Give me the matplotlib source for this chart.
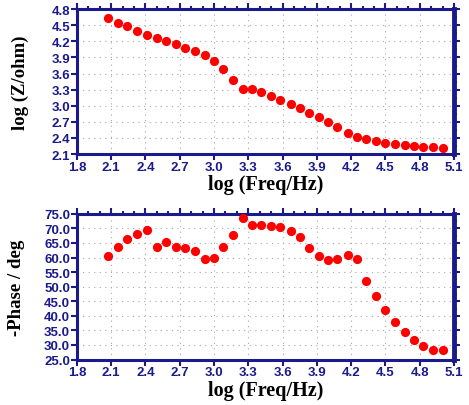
import numpy as np
import matplotlib.pyplot as plt
from matplotlib.ticker import MultipleLocator, FormatStrFormatter

log_freq = [2.07, 2.16, 2.24, 2.33, 2.41, 2.50, 2.58, 2.67, 2.75, 2.83, 2.92, 3.00,
            3.08, 3.17, 3.25, 3.33, 3.41, 3.50, 3.58, 3.67, 3.75, 3.83, 3.92, 4.00,
            4.08, 4.17, 4.25, 4.33, 4.42, 4.50, 4.58, 4.67, 4.75, 4.83, 4.92, 5.00]

log_z = [4.63, 4.55, 4.48, 4.40, 4.32, 4.26, 4.21, 4.15, 4.07, 4.02, 3.95, 3.83,
         3.68, 3.48, 3.32, 3.32, 3.25, 3.18, 3.11, 3.03, 2.95, 2.87, 2.79, 2.69,
         2.60, 2.50, 2.42, 2.38, 2.34, 2.31, 2.29, 2.27, 2.25, 2.24, 2.23, 2.22]

phase = [60.6, 63.6, 66.2, 68.2, 69.6, 63.6, 65.3, 63.6, 63.2, 62.1, 59.6, 59.9,
         63.5, 67.6, 73.4, 71.0, 71.2, 70.8, 70.5, 69.2, 67.1, 63.1, 60.5, 59.3,
         59.6, 60.8, 59.6, 51.8, 46.9, 42.1, 38.0, 34.6, 31.7, 29.7, 28.4, 28.1]

navy = '#1a1a8c'
tick_font = {'family': 'Liberation Sans', 'weight': 'bold', 'size': 9.5}
xlabel_font = {'family': 'Liberation Serif', 'weight': 'bold', 'size': 14.5}
ylabel_font = {'family': 'Liberation Serif', 'weight': 'bold', 'size': 13.5}

fig = plt.figure(figsize=(4.69, 4.06), dpi=100)
ax1 = fig.add_axes([0.164, 0.618, 0.804, 0.357])
ax2 = fig.add_axes([0.164, 0.112, 0.804, 0.359])


def style(ax, ylo, yhi, ystep, fmt):
    ax.set_xlim(1.8, 5.1)
    ax.set_ylim(ylo, yhi)
    ax.xaxis.set_major_locator(MultipleLocator(0.3))
    ax.yaxis.set_major_locator(MultipleLocator(ystep))
    ax.xaxis.set_minor_locator(MultipleLocator(0.1))
    ax.yaxis.set_minor_locator(MultipleLocator(ystep / 2))
    ax.xaxis.set_major_formatter(FormatStrFormatter('%.1f'))
    ax.yaxis.set_major_formatter(FormatStrFormatter(fmt))
    for side in ['left', 'bottom', 'top']:
        ax.spines[side].set_color(navy)
        ax.spines[side].set_linewidth(2.2)
    ax.spines['right'].set_color(navy)
    ax.spines['right'].set_linewidth(3.5)
    ax.tick_params(which='both', direction='out', color=navy,
                   top=True, right=True, width=1.5)
    ax.tick_params(which='major', length=4)
    ax.tick_params(which='minor', length=2.5)
    ax.tick_params(which='minor', bottom=False, left=False)
    ax.tick_params(labelcolor=navy, pad=1)
    for lab in ax.get_xticklabels() + ax.get_yticklabels():
        lab.set_fontfamily(tick_font['family'])
        lab.set_fontweight('bold')
        lab.set_fontsize(tick_font['size'])
    ax.grid(True, which='major', color='#a8a8a8', linestyle=(0, (1, 4)), linewidth=0.8)
    ax.set_xlabel('log (Freq/Hz)', fontdict=xlabel_font, labelpad=1)


ax1.scatter(log_freq, log_z, s=44, color='#ff0000', zorder=5, linewidths=0)
style(ax1, 2.1, 4.8, 0.3, '%.1f')
ax1.set_ylabel('log (Z/ohm)', fontdict=ylabel_font, labelpad=16)

ax2.scatter(log_freq, phase, s=44, color='#ff0000', zorder=5, linewidths=0)
style(ax2, 25, 75, 5, '%.1f')
ax2.set_ylabel('-Phase / deg', fontdict=ylabel_font, labelpad=14)

fig.savefig('out.png', dpi=100)
